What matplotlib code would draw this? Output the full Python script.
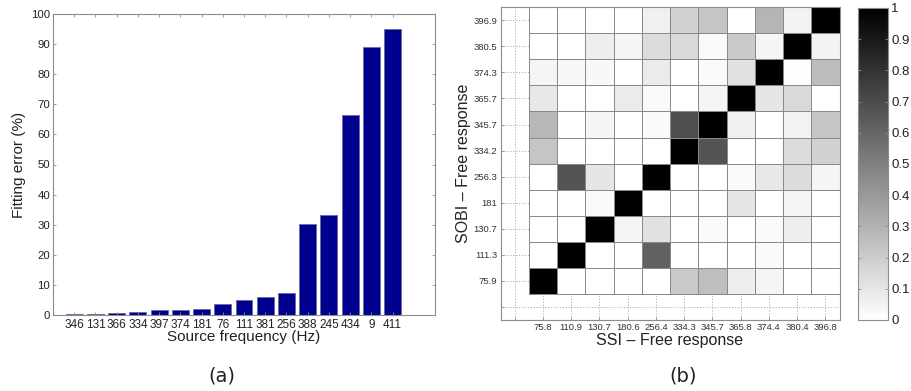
import numpy as np
import matplotlib
matplotlib.use("Agg")
import matplotlib.pyplot as plt

# ---------------- data ----------------
src_freq_labels = ["346", "131", "366", "334", "397", "374", "181", "76",
                   "111", "381", "256", "388", "245", "434", "9", "411"]
fit_error = [0.3, 0.35, 0.55, 1.1, 1.55, 1.65, 2.1, 3.5,
             5.1, 5.9, 7.2, 30.3, 33.2, 66.3, 88.9, 94.9]

ssi_labels = ["75.8", "110.9", "130.7", "180.6", "256.4", "334.3",
              "345.7", "365.8", "374.4", "380.4", "396.8"]
sobi_labels = ["75.9", "111.3", "130.7", "181", "256.3", "334.2",
               "345.7", "365.7", "374.3", "380.5", "396.9"]

# rows: SOBI modes (bottom -> top), columns: SSI modes (left -> right)
mac = np.array([
    [1.00, 0.00, 0.00, 0.00, 0.00, 0.21, 0.25, 0.07, 0.04, 0.00, 0.00],  # 75.9
    [0.00, 1.00, 0.00, 0.00, 0.62, 0.00, 0.00, 0.00, 0.02, 0.00, 0.00],  # 111.3
    [0.00, 0.00, 1.00, 0.04, 0.12, 0.00, 0.02, 0.00, 0.02, 0.07, 0.00],  # 130.7
    [0.00, 0.00, 0.02, 1.00, 0.00, 0.00, 0.00, 0.10, 0.00, 0.04, 0.00],  # 181
    [0.00, 0.67, 0.10, 0.00, 1.00, 0.00, 0.00, 0.02, 0.09, 0.14, 0.04],  # 256.3
    [0.23, 0.00, 0.00, 0.00, 0.00, 1.00, 0.67, 0.00, 0.00, 0.14, 0.18],  # 334.2
    [0.28, 0.00, 0.04, 0.00, 0.02, 0.69, 1.00, 0.06, 0.00, 0.05, 0.23],  # 345.7
    [0.09, 0.00, 0.00, 0.08, 0.02, 0.00, 0.04, 1.00, 0.10, 0.15, 0.00],  # 365.7
    [0.04, 0.03, 0.03, 0.00, 0.08, 0.00, 0.02, 0.12, 1.00, 0.01, 0.26],  # 374.3
    [0.00, 0.00, 0.07, 0.04, 0.14, 0.15, 0.02, 0.21, 0.04, 1.00, 0.05],  # 380.5
    [0.00, 0.00, 0.00, 0.00, 0.06, 0.18, 0.23, 0.00, 0.29, 0.05, 1.00],  # 396.9
])
cbar_ticks = [0, 0.1, 0.2, 0.3, 0.4, 0.5, 0.6, 0.7, 0.8, 0.9, 1]
cbar_labels = ['0', '0.1', '0.2', '0.3', '0.4', '0.5', '0.6',
               '0.7', '0.8', '0.9', '1']

# ---------------- style ----------------
plt.rcParams['font.family'] = ['Liberation Sans', 'DejaVu Sans']
SPINE = '#8c8c8c'
TXT = '#222222'

fig = plt.figure(figsize=(9.12, 3.91), dpi=100)

# ---------------- (a) bar chart ----------------
ax1 = fig.add_axes([53/912, 1-315/391, 382/912, 301/391])
xpos = np.arange(1, len(fit_error)+1)
ax1.bar(xpos, fit_error, width=0.8, color='#00008f',
        edgecolor='#6a6a9a', linewidth=0.6)
ax1.set_xlim(0, len(fit_error)+2)
ax1.set_ylim(0, 100)
ax1.set_xticks(xpos)
ax1.set_xticklabels(src_freq_labels, fontsize=8.5, color=TXT)
ax1.set_yticks(np.arange(0, 101, 10))
ax1.tick_params(axis='y', labelsize=8.2, labelcolor=TXT)
ax1.tick_params(direction='in', length=2.5, width=0.6, color=SPINE,
                top=True, right=True, pad=2)
ax1.tick_params(axis='x', pad=3)
for s in ax1.spines.values():
    s.set_color(SPINE)
    s.set_linewidth(0.8)
ax1.set_xlabel('Source frequency (Hz)', fontsize=11, color=TXT)
ax1.set_ylabel('Fitting error (%)', fontsize=11, color=TXT)
ax1.xaxis.set_label_coords(0.5, -(330-315)/301, transform=ax1.transAxes)
ax1.yaxis.set_label_coords(-(53-26)/382, 0.5, transform=ax1.transAxes)

# ---------------- (b) MAC matrix ----------------
ax2 = fig.add_axes([500.5/912, 1-320/391, 339/912, 312.8/391])
n = len(ssi_labels)
edges = np.arange(0.5, n+1.0, 1.0)
mesh = ax2.pcolormesh(edges, edges, mac, cmap='gray_r', vmin=0, vmax=1,
                      edgecolors='#8a8a8a', linewidth=0.5)
ax2.set_xlim(-0.5, n+0.5)
ax2.set_ylim(-0.5, n+0.5)
ax2.set_xticks(np.arange(0, n+1))
ax2.set_yticks(np.arange(0, n+1))
ax2.set_xticklabels([''] + ssi_labels, fontsize=6.8, color='#333333')
ax2.set_yticklabels([''] + sobi_labels, fontsize=6.8, color='#333333')
ax2.set_axisbelow(True)
ax2.grid(True, color='#a8a8a8', linestyle=(0, (1.5, 2.0)), linewidth=0.6)
ax2.tick_params(direction='in', length=2, width=0.6, color=SPINE, pad=2.5)
for s in ax2.spines.values():
    s.set_color(SPINE)
    s.set_linewidth(0.8)
ax2.set_xlabel('SSI \u2013 Free response', fontsize=11.5, color=TXT)
ax2.set_ylabel('SOBI \u2013 Free response', fontsize=11.5, color=TXT)
ax2.xaxis.set_label_coords(0.5, -(333-320)/312.8, transform=ax2.transAxes)
ax2.yaxis.set_label_coords(-(500.5-471)/339, 0.5, transform=ax2.transAxes)

# colorbar
cax = fig.add_axes([858.5/912, 1-320/391, 30/912, 312/391])
cb = fig.colorbar(mesh, cax=cax, ticks=cbar_ticks)
cb.ax.set_yticklabels(cbar_labels)
cb.outline.set_edgecolor(SPINE)
cb.outline.set_linewidth(0.8)
cax.tick_params(direction='in', length=2.5, width=0.6, color=SPINE,
                left=True, right=True, labelsize=9.5, labelcolor=TXT, pad=2)

# captions
fig.text(222/912, 1-376/391, '(a)', fontsize=14, family='DejaVu Sans',
         ha='center', va='center', color=TXT)
fig.text(683/912, 1-376/391, '(b)', fontsize=14, family='DejaVu Sans',
         ha='center', va='center', color=TXT)

fig.savefig('out.png', dpi=100)
